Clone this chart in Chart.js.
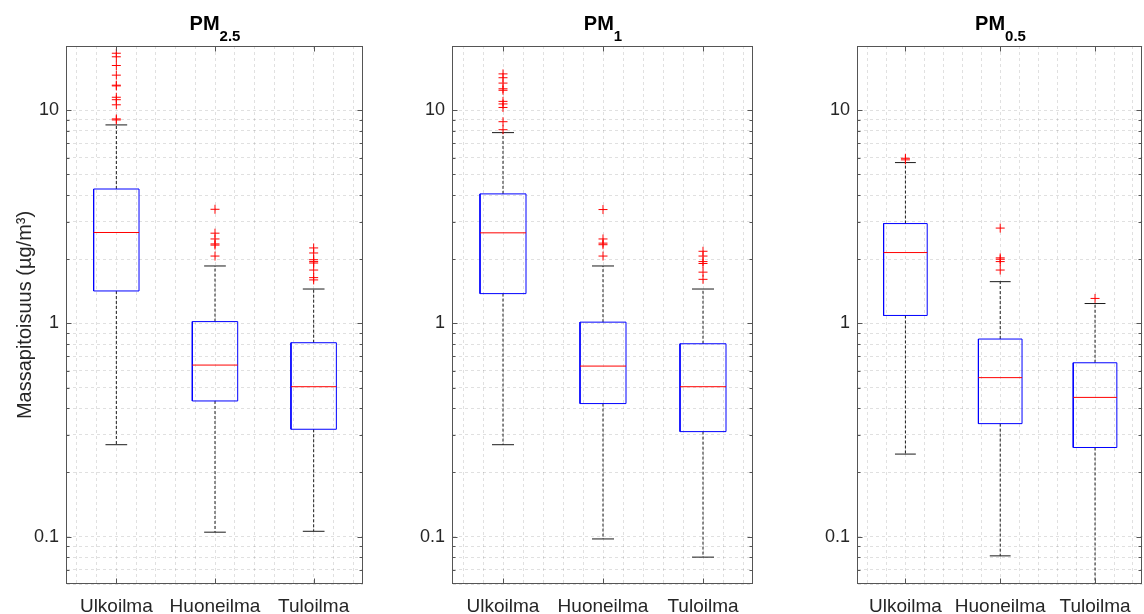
<!DOCTYPE html>
<html>
<head>
<meta charset="utf-8">
<script src="https://cdn.jsdelivr.net/npm/chart.js@4.4.1/dist/chart.umd.min.js"></script>
<style>
	body { margin: 0; background: #fff; width: 1144px; height: 614px; position: relative; overflow: hidden; font-family: "Liberation Sans", Arial, sans-serif; }
	canvas { position: absolute; top: 0; }
	.title { position: absolute; top: 13px; font-weight: bold; font-size: 20px; line-height: 20px; color: #000; text-align: center; white-space: nowrap; }
	.title sub { font-size: 15px; vertical-align: -11px; line-height: 0; }
</style>
</head>
<body>
<script>
const categories = ['Ulkoilma', 'Huoneilma', 'Tuloilma']

// log axis: every gridline, and the ones that carry a label
const yTicks = [0.06, 0.07, 0.08, 0.09, 0.1, 0.2, 0.3, 0.4, 0.5, 0.6, 0.7, 0.8, 0.9,
	1, 2, 3, 4, 5, 6, 7, 8, 9, 10, 20]
const yLabels = [0.1, 1, 10]

// PM2.5
const pm25Low = [0.27, 0.105, 0.106]
const pm25Q1 = [1.42, 0.433, 0.319]
const pm25Median = [2.67, 0.638, 0.505]
const pm25Q3 = [4.27, 1.02, 0.812]
const pm25High = [8.53, 1.86, 1.45]
const pm25Outliers = [
	[18.5, 17.8, 16.2, 14.6, 13.1, 13.0, 11.5, 11.2, 10.6, 9.1, 9.0],
	[3.43, 2.65, 2.49, 2.36, 2.33, 2.07],
	[2.26, 2.14, 1.99, 1.95, 1.92, 1.78, 1.64, 1.6]
]

// PM1
const pm1Low = [0.27, 0.0976, 0.0802]
const pm1Q1 = [1.38, 0.421, 0.311]
const pm1Median = [2.66, 0.631, 0.505]
const pm1Q3 = [4.05, 1.014, 0.803]
const pm1High = [7.85, 1.86, 1.45]
const pm1Outliers = [
	[14.8, 14.2, 13.4, 12.6, 12.4, 11.0, 10.7, 10.3, 8.83, 8.1],
	[3.42, 2.49, 2.38, 2.34, 2.07],
	[2.18, 2.07, 1.95, 1.91, 1.74, 1.61]
]

// PM0.5
const pm05Low = [0.244, 0.0813, 0.05]
const pm05Q1 = [1.09, 0.339, 0.262]
const pm05Median = [2.15, 0.557, 0.45]
const pm05Q3 = [2.94, 0.845, 0.654]
const pm05High = [5.68, 1.57, 1.24]
const pm05Outliers = [
	[5.95, 5.85],
	[2.8, 2.03, 2.0, 1.95, 1.78],
	[1.31]
]

const BOX = 0.23 // half width of a box, in category units
const CAP = 0.11 // half width of a whisker cap
const TOP = 46
const AXIS_H = 30
const TEXT = '#262626'
const FONT = '"Liberation Sans", Arial, sans-serif'

let xGrid = []
for (let k = 0; k < 15; k++) xGrid.push(Math.round((0.6 + 0.2 * k) * 10) / 10)

const panels = [
	{ id: 'pm25', name: 'PM', sub: '2.5', left: 67, right: 363, canvasLeft: 0, yTitle: true,
		data: [pm25Low, pm25Q1, pm25Median, pm25Q3, pm25High, pm25Outliers] },
	{ id: 'pm1', name: 'PM', sub: '1', left: 453, right: 753, canvasLeft: 393, yTitle: false,
		data: [pm1Low, pm1Q1, pm1Median, pm1Q3, pm1High, pm1Outliers] },
	{ id: 'pm05', name: 'PM', sub: '0.5', left: 858, right: 1143, canvasLeft: 798, yTitle: false,
		data: [pm05Low, pm05Q1, pm05Median, pm05Q3, pm05High, pm05Outliers] }
]

function boxDatasets(low, q1, median, q3, high, outliers) {
	let whiskers = [], caps = [], boxes = [], medians = [], points = []
	categories.forEach((c, i) => {
		const x = i + 1
		whiskers.push({x, y: q3[i]}, {x, y: high[i]}, {x, y: null},
			{x, y: q1[i]}, {x, y: low[i]}, {x, y: null})
		caps.push({x: x - CAP, y: high[i]}, {x: x + CAP, y: high[i]}, {x, y: null},
			{x: x - CAP, y: low[i]}, {x: x + CAP, y: low[i]}, {x, y: null})
		boxes.push({x: x - BOX, y: q1[i]}, {x: x + BOX, y: q1[i]}, {x: x + BOX, y: q3[i]},
			{x: x - BOX, y: q3[i]}, {x: x - BOX, y: q1[i]}, {x, y: null})
		medians.push({x: x - BOX, y: median[i]}, {x: x + BOX, y: median[i]}, {x, y: null})
		outliers[i].forEach(v => points.push({x, y: v}))
	})
	const seg = { showLine: true, pointRadius: 0, spanGaps: false, borderWidth: 1 }
	return [
		{ data: points, showLine: false, pointStyle: 'cross', pointRadius: 4.5, borderWidth: 1,
			borderColor: '#ff0000', backgroundColor: 'transparent' },
		Object.assign({ data: medians, borderColor: '#ff0000' }, seg),
		Object.assign({ data: boxes, borderColor: '#0000ff' }, seg),
		Object.assign({ data: caps, borderColor: '#1a1a1a' }, seg),
		Object.assign({ data: whiskers, borderColor: '#1a1a1a', borderDash: [3, 2] }, seg)
	]
}

// axes box with inward ticks on every side
const frame = {
	id: 'frame',
	afterDraw(chart) {
		const {ctx, chartArea: a, scales: {x, y}} = chart
		const l = Math.round(a.left) - 0.5, r = Math.round(a.right) - 0.5
		const t = Math.round(a.top) + 0.5, b = Math.round(a.bottom) - 0.5
		ctx.save()
		ctx.strokeStyle = '#555'
		ctx.lineWidth = 1
		ctx.beginPath()
		for (let v of yTicks) {
			const py = Math.round(y.getPixelForValue(v)) + 0.5
			if (py < t + 1 || py > b - 1) continue
			const len = yLabels.includes(v) ? 5 : 3
			ctx.moveTo(l, py); ctx.lineTo(l + len, py)
			ctx.moveTo(r, py); ctx.lineTo(r - len, py)
		}
		categories.forEach((c, i) => {
			const px = Math.round(x.getPixelForValue(i + 1)) + 0.5
			ctx.moveTo(px, t); ctx.lineTo(px, t + 5)
			ctx.moveTo(px, b); ctx.lineTo(px, b - 5)
		})
		ctx.stroke()
		ctx.strokeRect(l, t, r - l, b - t)
		ctx.restore()
	}
}

const gridOpts = { color: 'rgba(0,0,0,0.12)', lineWidth: 1, drawTicks: false }

for (let p of panels) {
	const canvas = document.createElement('canvas')
	const w = (p.right === 1143 ? 1144 : p.right + 3) - p.canvasLeft
	canvas.width = w
	canvas.height = 614
	canvas.style.left = p.canvasLeft + 'px'
	document.body.appendChild(canvas)

	const title = document.createElement('div')
	title.className = 'title'
	title.style.left = p.left + 'px'
	title.style.width = (p.right - p.left) + 'px'
	title.innerHTML = `${p.name}<sub>${p.sub}</sub>`
	document.body.appendChild(title)

	new Chart(canvas, {
		type: 'scatter',
		data: { datasets: boxDatasets(...p.data) },
		plugins: [frame],
		options: {
			responsive: false,
			animation: false,
			events: [],
			layout: { autoPadding: false, padding: { top: TOP, left: 0, bottom: 0, right: w - (p.right - p.canvasLeft) } },
			plugins: { legend: { display: false }, tooltip: { enabled: false } },
			scales: {
				x: {
					type: 'linear', min: 0.5, max: 3.5,
					afterBuildTicks: s => { s.ticks = xGrid.map(v => ({ value: v })) },
					afterFit: s => { s.height = AXIS_H },
					grid: gridOpts,
					border: { display: false, dash: [3, 3] },
					ticks: {
						autoSkip: false, maxRotation: 0, padding: 11, color: TEXT,
						font: { family: FONT, size: 19 },
						callback: v => Math.abs(v - Math.round(v)) < 1e-6 ? categories[Math.round(v) - 1] : ''
					}
				},
				y: {
					type: 'logarithmic', min: 0.06, max: 20,
					afterBuildTicks: s => { s.ticks = yTicks.map(v => ({ value: v })) },
					afterFit: s => { s.width = p.left - p.canvasLeft },
					grid: gridOpts,
					border: { display: false, dash: [3, 3] },
					ticks: {
						autoSkip: false, padding: 8, color: TEXT,
						font: { family: FONT, size: 18 },
						callback: v => yLabels.includes(v) ? String(v) : ''
					},
					title: {
						display: p.yTitle, text: 'Massapitoisuus (µg/m³)', color: TEXT,
						font: { family: FONT, size: 20 }, padding: { top: 13, bottom: 0 }
					}
				}
			}
		}
	})
}
</script>
</body>
</html>
